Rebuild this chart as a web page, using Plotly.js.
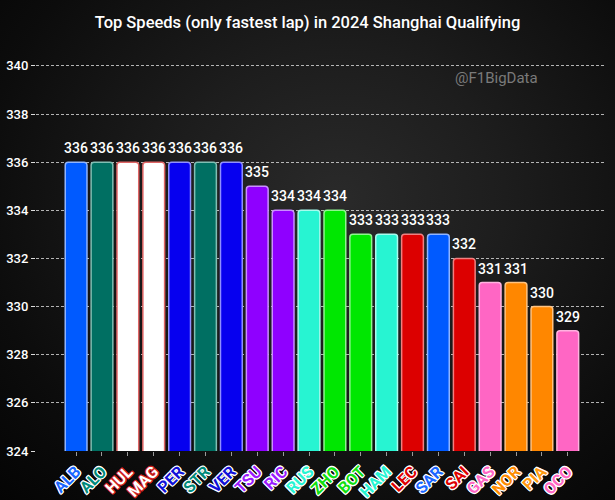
<!DOCTYPE html>
<html>
<head>
<meta charset="utf-8">
<script src="https://cdn.plot.ly/plotly-3.0.1.min.js"></script>
<style>
  html, body { margin:0; padding:0; width:615px; height:500px; overflow:hidden;
    background: radial-gradient(ellipse at 55% 40%, #2a2a2a 0%, #1d1d1d 35%, #0c0c0c 75%, #040404 100%); }
  #chart { width:615px; height:500px; }
</style>
</head>
<body>
<div id="chart"></div>
<script>
const drivers = ["ALB","ALO","HUL","MAG","PER","STR","VER","TSU","RIC","RUS","ZHO","BOT","HAM","LEC","SAR","SAI","GAS","NOR","PIA","OCO"];
const speeds  = [336,336,336,336,336,336,336,335,334,334,334,333,333,333,333,332,331,331,330,329];
const barColors = ["#005aff","#006f62","#ffffff","#ffffff","#0600ef","#006f62","#0600ef","#8f00ff","#8f00ff","#27f4d2","#00e701","#00e701","#27f4d2","#dc0000","#005aff","#dc0000","#ff66c4","#ff8700","#ff8700","#ff66c4"];
const edgeColors = ["#8fb4ff","#80bfb4","#e06666","#e06666","#8f8fff","#80bfb4","#8f8fff","#c98fff","#c98fff","#a8fbee","#8ff58f","#8ff58f","#a8fbee","#f08080","#8fb4ff","#f08080","#ffb3e0","#ffc380","#ffc380","#ffb3e0"];
const labelColors = ["#1a66ff","#008a7a","#ffffff","#ffffff","#1010d8","#008a7a","#1010d8","#9a1aff","#9a1aff","#27f4d2","#10e010","#10e010","#27f4d2","#e00000","#1a66ff","#e00000","#ff66c4","#ff8c00","#ff9a10","#ff66c4"];
const labelOutline = ["#ffffff","#ffffff","#d02020","#d02020","#ffffff","#ffffff","#ffffff","#ffffff","#ffffff","#ffffff","#ffffff","#ffffff","#ffffff","#ffffff","#ffffff","#ffffff","#ffffff","#ffffff","#ffffff","#ffffff"];
const yTicks = [324,326,328,330,332,334,336,338,340];

function outline(c){
  return `text-shadow:1px 0 0 ${c},-1px 0 0 ${c},0 1px 0 ${c},0 -1px 0 ${c},1px 1px 0 ${c},-1px -1px 0 ${c},1px -1px 0 ${c},-1px 1px 0 ${c}`;
}
const tickText = drivers.map((d,i)=>`<span style="color:${labelColors[i]};${outline(labelOutline[i])}">${d}</span>`);

const trace = {
  type:'bar',
  x: drivers,
  y: speeds,
  base: 0,
  marker:{ color: barColors, line:{ color: edgeColors, width: 1.5 }, cornerradius: 3 },
  hoverinfo:'none'
};

const valueLabels = drivers.map((d,i)=>({
  x:d, y:speeds[i], xref:'x', yref:'y', text:String(speeds[i]),
  showarrow:false, xanchor:'center', yanchor:'bottom', yshift:4,
  font:{ family:'Roboto', size:14, color:'#ffffff', weight:500 }
}));

const layout = {
  width:615, height:500,
  margin:{l:36, r:11, t:63, b:49},
  paper_bgcolor:'rgba(0,0,0,0)',
  plot_bgcolor:'rgba(0,0,0,0)',
  bargap:0.16,
  showlegend:false,
  title:{ text:'Top Speeds (only fastest lap) in 2024 Shanghai Qualifying',
    font:{ family:'Roboto', size:16.5, color:'#ffffff', weight:500 },
    x:0.5, xref:'container', xanchor:'center', y:0.956, yref:'container', yanchor:'middle' },
  xaxis:{
    type:'category', range:[-1.55, 20.4],
    tickmode:'array', tickvals: drivers, ticktext: tickText,
    tickangle:-45, tickfont:{ family:'Roboto', size:16, weight:'bold' },
    ticks:'outside', ticklen:4, tickcolor:'#999', tickwidth:1,
    showgrid:false, zeroline:false,
    showline:true, linecolor:'rgba(0,0,0,0)', linewidth:1
  },
  yaxis:{
    range:[324, 340.12],
    tickmode:'array', tickvals: yTicks,
    tickfont:{ family:'Roboto', size:13, color:'#ffffff', weight:500 },
    ticks:'outside', ticklen:4, tickcolor:'#dddddd', tickwidth:1,
    showgrid:true, gridcolor:'rgba(220,220,220,0.8)', griddash:'3px,2px', gridwidth:1,
    zeroline:false, showline:false
  },
  annotations:[{
    text:'@F1BigData', xref:'paper', yref:'paper', x:0.811, y:0.962,
    xanchor:'center', yanchor:'middle', showarrow:false,
    font:{ family:'Roboto', size:15, color:'#7a7a7a' }
  }].concat(valueLabels)
};

Plotly.newPlot('chart', [trace], layout, {staticPlot:true, displayModeBar:false});
</script>
</body>
</html>
